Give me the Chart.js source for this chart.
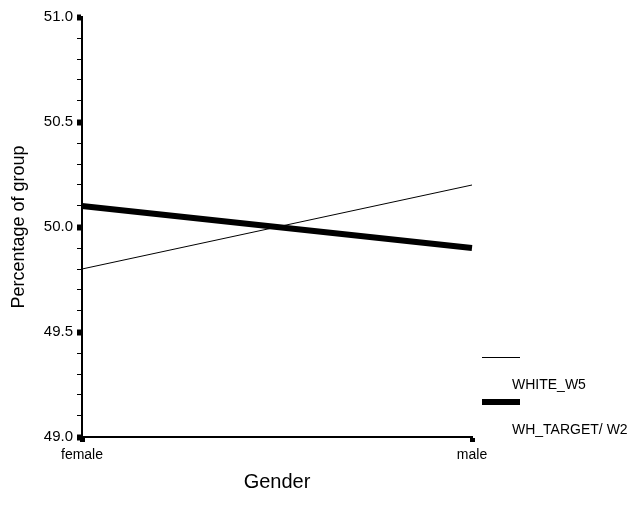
<!DOCTYPE html>
<html>
<head>
<meta charset="utf-8">
<script src="https://cdn.jsdelivr.net/npm/chart.js@4/dist/chart.umd.min.js"></script>
<style>
  html, body { margin: 0; padding: 0; background: #fff; }
  #wrap { width: 638px; height: 516px; }
</style>
</head>
<body>
<div id="wrap"><canvas id="genderChart" width="638" height="516"></canvas></div>
<script>
const categories = ['female', 'male'];
const whiteW5 = [49.8, 50.2];
const whTargetW2 = [50.1, 49.9];
const seriesNames = ['WHITE_W5', 'WH_TARGET/ W2'];

// little legend on the right, below the plot
const sideLegend = {
    id: 'sideLegend',
    afterDraw(chart) {
        const c = chart.ctx;
        const items = [
            { y: 357.5, ty: 385 },
            { y: 402, ty: 430 }
        ];
        c.save();
        chart.data.datasets.forEach(function(ds, i) {
            c.strokeStyle = ds.borderColor;
            c.lineWidth = ds.borderWidth;
            c.beginPath();
            c.moveTo(482, items[i].y);
            c.lineTo(520, items[i].y);
            c.stroke();
            c.fillStyle = '#000';
            c.font = '14px "Liberation Sans", Arial, sans-serif';
            c.textBaseline = 'middle';
            c.textAlign = 'left';
            c.fillText(ds.label, 512, items[i].ty);
        });
        c.restore();
    }
};

document.addEventListener('DOMContentLoaded', function() {
    const ctx = document.getElementById('genderChart').getContext('2d');
    const family = '"Liberation Sans", Arial, sans-serif';

    new Chart(ctx, {
        type: 'line',
        data: {
            labels: categories,
            datasets: [{
                label: seriesNames[0],
                data: whiteW5,
                borderColor: '#000',
                borderWidth: 1,
                pointRadius: 0,
                tension: 0
            }, {
                label: seriesNames[1],
                data: whTargetW2,
                borderColor: '#000',
                borderWidth: 6,
                pointRadius: 0,
                tension: 0
            }]
        },
        options: {
            responsive: false,
            animation: false,
            layout: { padding: { top: 17, right: 166, left: 8, bottom: 22 } },
            plugins: {
                legend: { display: false },
                tooltip: { enabled: false }
            },
            scales: {
                x: {
                    offset: false,
                    border: { display: true, color: '#000', width: 2 },
                    grid: {
                        drawOnChartArea: false,
                        color: '#000',
                        tickLength: 5,
                        tickWidth: 5
                    },
                    ticks: { color: '#000', font: { family: family, size: 14 }, padding: 5, maxRotation: 0 },
                    title: {
                        display: true,
                        text: 'Gender',
                        color: '#000',
                        font: { family: family, size: 20 },
                        padding: 0
                    },
                    afterFit: function(s) { s.height = 57; }
                },
                y: {
                    min: 49,
                    max: 51,
                    border: { display: true, color: '#000', width: 2 },
                    grid: {
                        drawOnChartArea: false,
                        color: '#000',
                        tickLength: 5,
                        tickWidth: function(c) {
                            const v = Math.round(c.tick.value * 10);
                            return v % 5 === 0 ? 6 : 1;
                        }
                    },
                    ticks: {
                        stepSize: 0.1,
                        autoSkip: false,
                        color: '#000',
                        font: { family: family, size: 15 },
                        padding: 4,
                        callback: function(v) {
                            const t = Math.round(v * 10);
                            return t % 5 === 0 ? (t / 10).toFixed(1) : '';
                        }
                    },
                    title: {
                        display: true,
                        text: 'Percentage of group',
                        color: '#000',
                        font: { family: family, size: 18 },
                        padding: 0
                    },
                    afterFit: function(s) { s.width = 74; }
                }
            }
        },
        plugins: [sideLegend]
    });
});
</script>
</body>
</html>
